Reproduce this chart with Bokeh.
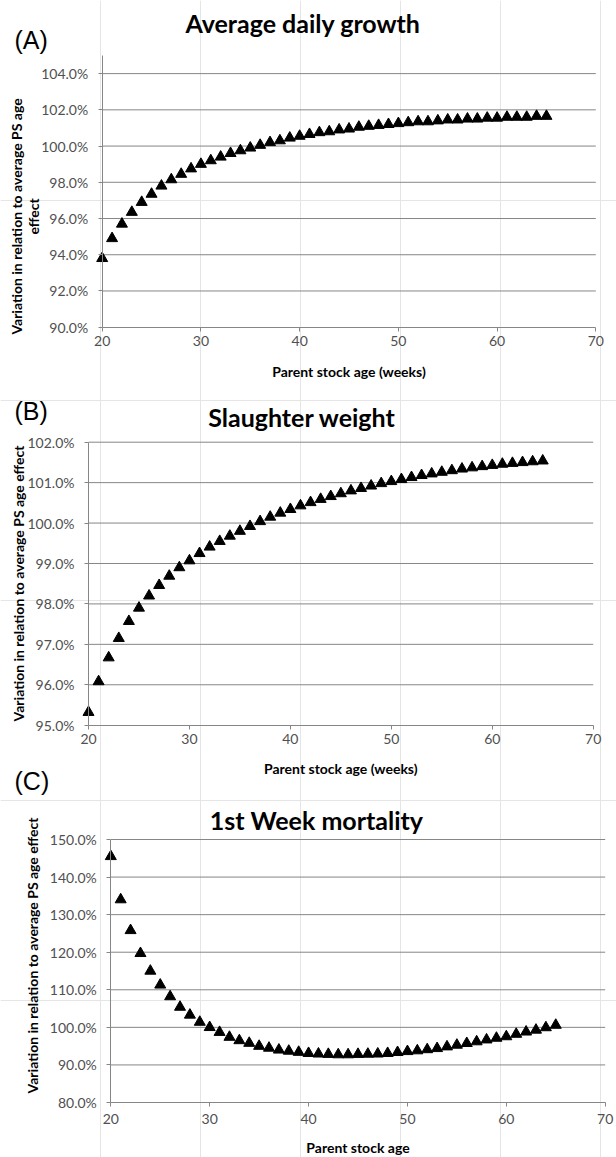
from math import pi
from bokeh.plotting import figure
from bokeh.models import FixedTicker, PrintfTickFormatter, Range1d, LinearAxis
from bokeh.core.properties import value
from bokeh.embed import file_html
from bokeh.resources import INLINE

# ---------------- data ----------------
weeks = list(range(20, 66))

adg = [93.8, 94.9, 95.7, 96.35, 96.9, 97.35, 97.8, 98.15, 98.45, 98.75,
       99.0, 99.2, 99.4, 99.6, 99.75, 99.9, 100.05, 100.2, 100.3, 100.45,
       100.55, 100.65, 100.75, 100.8, 100.9, 100.95, 101.05, 101.1, 101.15, 101.2,
       101.25, 101.3, 101.35, 101.35, 101.4, 101.45, 101.45, 101.5, 101.5, 101.55,
       101.55, 101.6, 101.6, 101.6, 101.65, 101.65]

slaughter = [95.32, 96.08, 96.67, 97.15, 97.57, 97.9, 98.2, 98.46, 98.69, 98.9,
             99.07, 99.25, 99.41, 99.55, 99.68, 99.8, 99.92, 100.04, 100.15, 100.25,
             100.34, 100.43, 100.51, 100.59, 100.66, 100.73, 100.8, 100.86, 100.92, 100.98,
             101.03, 101.08, 101.13, 101.18, 101.22, 101.26, 101.3, 101.34, 101.37, 101.4,
             101.43, 101.46, 101.48, 101.5, 101.52, 101.54]

mortality = [145.5, 134.0, 125.8, 119.7, 115.0, 111.3, 108.2, 105.4, 103.3, 101.4,
             100.0, 98.7, 97.4, 96.5, 95.8, 95.0, 94.5, 94.0, 93.7, 93.4,
             93.1, 92.95, 92.85, 92.75, 92.75, 92.85, 92.9, 92.95, 93.1, 93.35,
             93.6, 93.8, 94.1, 94.4, 94.85, 95.3, 95.75, 96.2, 96.7, 97.15,
             97.55, 98.2, 98.8, 99.3, 99.95, 100.6]

x_ticks = [20, 30, 40, 50, 60, 70]
adg_ticks = [90, 92, 94, 96, 98, 100, 102, 104]
sw_ticks = [95, 96, 97, 98, 99, 100, 101, 102]
mort_ticks = [80, 90, 100, 110, 120, 130, 140, 150]

titles = ["Average daily growth", "Slaughter weight", "1st Week mortality"]
tags = ["(A)", "(B)", "(C)"]
x_labels = ["Parent stock age (weeks)", "Parent stock age (weeks)", "Parent stock age"]
y_label_a = ["Variation in relation to average PS age", "effect"]
y_label_bc = ["Variation in relation to average PS age effect",
              "Variation in relation to average PS age effect"]

# ---------------- page geometry (pixels of the 616x1157 picture) ----------------
W, H = 616, 1157
GRID = "#868686"
TICKTXT = "#505050"
FONT = "Lato"

# plot areas: (x of first x tick, x of last x tick, y of bottom of y range, y of top of y range)
AREA_A = (101.7, 595.3, 326.7, 55.0)
AREA_B = (88.0, 592.7, 724.7, 441.7)
AREA_C = (110.3, 604.7, 1102.0, 839.0)

p = figure(width=W, height=H, x_range=Range1d(0, W), y_range=Range1d(H, 0),
           output_backend="svg", toolbar_location=None,
           x_axis_location=None, y_axis_location=None,
           min_border=0, min_border_left=0, min_border_right=0,
           min_border_top=0, min_border_bottom=0)
p.outline_line_color = None
p.background_fill_color = "white"
p.border_fill_color = "white"


def linear_range(v0, p0, v1, p1, size):
    k = (p1 - p0) / (v1 - v0)
    return Range1d(start=v0 - p0 / k, end=v0 + (size - p0) / k)


extra_x, extra_y = {}, {}
specs = [("a", adg, adg_ticks, 90, 105, AREA_A, 5),
         ("b", slaughter, sw_ticks, 95, 102, AREA_B, 5),
         ("c", mortality, mort_ticks, 80, 150, AREA_C, 7)]
for name, vals, yt, ylo, yhi, area, tstand in specs:
    x0px, x1px, ybpx, ytpx = area
    extra_x["x" + name] = linear_range(x_ticks[0], x0px, x_ticks[-1], x1px, W)
    extra_y["y" + name] = linear_range(ylo, H - ybpx, yhi, H - ytpx, H)
p.extra_x_ranges = extra_x
p.extra_y_ranges = extra_y


def style(ax):
    ax.axis_line_color = GRID
    ax.major_tick_line_color = GRID
    ax.major_tick_in = 0
    ax.major_tick_out = 4
    ax.minor_tick_line_color = None
    ax.major_label_text_font = FONT
    ax.major_label_text_font_size = "14px"
    ax.major_label_text_color = TICKTXT


for name, vals, yt, ylo, yhi, area, tstand in specs:
    xn, yn = "x" + name, "y" + name
    # horizontal gridlines
    p.segment(x0=[x_ticks[0]] * (len(yt) - 1), x1=[x_ticks[-1]] * (len(yt) - 1),
              y0=yt[1:], y1=yt[1:], line_color=GRID, line_width=1,
              x_range_name=xn, y_range_name=yn)
    xa = LinearAxis(x_range_name=xn, y_range_name=yn, fixed_location=ylo,
                    bounds=(x_ticks[0], x_ticks[-1]), ticker=FixedTicker(ticks=x_ticks))
    style(xa)
    xa.major_label_standoff = tstand
    p.add_layout(xa, "below")
    ya = LinearAxis(x_range_name=xn, y_range_name=yn, fixed_location=x_ticks[0],
                    bounds=(ylo, yhi), ticker=FixedTicker(ticks=yt),
                    formatter=PrintfTickFormatter(format="%.1f%%"))
    style(ya)
    ya.major_label_standoff = 10
    p.add_layout(ya, "left")
    p.scatter(weeks, vals, marker="triangle", size=11, fill_color="black",
              line_color="black", line_width=1, x_range_name=xn, y_range_name=yn)

# ---------------- texts (page pixels, vertical centres) ----------------
p.text(x=[14, 14, 14], y=[39, 410, 780], text=tags,
       text_font=value("Liberation Sans"), text_font_size=value("25px"),
       text_color="black", text_align="left", text_baseline="middle")
p.text(x=[302.5, 301.5, 316], y=[22.5, 416, 819], text=titles,
       text_font=value(FONT), text_font_size=value("25px"), text_font_style="bold",
       text_color="black", text_align="center", text_baseline="middle")
p.text(x=[348.5, 340.3, 357.5], y=[371, 768, 1147], text=x_labels,
       text_font=value(FONT), text_font_size=value("14px"), text_font_style="bold",
       text_color="black", text_align="center", text_baseline="middle")
p.text(x=[16, 33, 18, 32], y=[216, 216, 583, 955],
       text=y_label_a + y_label_bc, angle=pi / 2,
       text_font=value(FONT), text_font_size=value("14px"), text_font_style="bold",
       text_color="black", text_align="center", text_baseline="middle")

open("out.html", "w").write(file_html(p, INLINE))
